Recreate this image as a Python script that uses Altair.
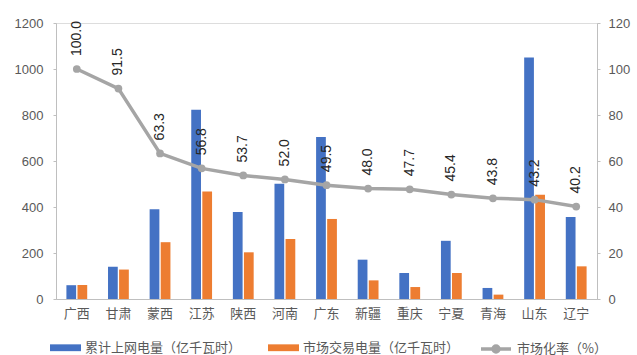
import altair as alt
import pandas as pd

provinces = ["广西", "甘肃", "蒙西", "江苏", "陕西", "河南", "广东", "新疆", "重庆", "宁夏", "青海", "山东", "辽宁"]
grid_power = [60, 140, 390, 823, 378, 501, 704, 171, 113, 253, 48, 1050, 356]
market_power = [61, 128, 247, 467, 203, 261, 348, 81, 52, 113, 19, 453, 142]
market_rate = [100.0, 91.5, 63.3, 56.8, 53.7, 52.0, 49.5, 48.0, 47.7, 45.4, 43.8, 43.2, 40.2]
series_names = ["累计上网电量（亿千瓦时）", "市场交易电量（亿千瓦时）", "市场化率（%）"]
colors = ["#4472C4", "#ED7D31", "#A5A5A5"]
left_ticks = [0, 200, 400, 600, 800, 1000, 1200]
right_ticks = [0, 20, 40, 60, 80, 100, 120]

bar_rows = []
for p, g, m in zip(provinces, grid_power, market_power):
    bar_rows.append({"province": p, "series": series_names[0], "value": g})
    bar_rows.append({"province": p, "series": series_names[1], "value": m})
bars_df = pd.DataFrame(bar_rows)

rate_df = pd.DataFrame({
    "province": provinces,
    "rate": market_rate,
    "label": [f"{v:.1f}" for v in market_rate],
    "series": series_names[2],
})

CJK = "Noto Sans CJK SC"
AXIS_GREY = "#BFBFBF"
TEXT_GREY = "#595959"

x_enc = alt.X(
    "province:N",
    sort=provinces,
    scale=alt.Scale(paddingInner=0.5, paddingOuter=0.25),
    axis=alt.Axis(title=None, labelAngle=0, ticks=False, domainColor=AXIS_GREY,
                  labelFontSize=13, labelColor=TEXT_GREY, labelPadding=8, labelFont=CJK),
)

rect_path = "M-1,-0.22H1V0.22H-1Z"
line_path = "M-1,0H1 M0.2,0A0.2,0.2,0,1,1,-0.2,0A0.2,0.2,0,1,1,0.2,0Z"

LEG_Y = 309

bar_legend = alt.Legend(
    title=None, orient="none", legendX=-6, legendY=LEG_Y, direction="horizontal",
    labelFont=CJK, labelFontSize=13, labelColor=TEXT_GREY, labelLimit=300,
    labelOffset=4, symbolType=rect_path, symbolSize=961, symbolStrokeWidth=0,
    symbolOpacity=1, columnPadding=26, padding=0,
)
line_legend = alt.Legend(
    title=None, orient="none", legendX=423, legendY=LEG_Y, direction="horizontal",
    labelFont=CJK, labelFontSize=13, labelColor=TEXT_GREY, labelLimit=300,
    labelOffset=4, symbolType=line_path, symbolSize=900, symbolStrokeWidth=3.5,
    symbolStrokeColor="#A5A5A5", symbolFillColor="#A5A5A5", symbolOpacity=1, padding=0,
)

bars = alt.Chart(bars_df).mark_bar().encode(
    x=x_enc,
    xOffset=alt.XOffset("series:N", sort=series_names[:2], scale=alt.Scale(paddingInner=0.12)),
    y=alt.Y("value:Q", scale=alt.Scale(domain=[0, 1200], nice=False),
            axis=alt.Axis(title=None, orient="left", values=left_ticks, grid=False, format="d",
                          domainColor=AXIS_GREY, tickColor=AXIS_GREY, tickSize=3,
                          labelPadding=10, labelFontSize=13, labelColor=TEXT_GREY,
                          labelFont="Liberation Sans")),
    color=alt.Color("series:N", scale=alt.Scale(domain=series_names[:2], range=colors[:2]),
                    legend=bar_legend),
)

y_rate = alt.Y("rate:Q", scale=alt.Scale(domain=[0, 120], nice=False),
               axis=alt.Axis(title=None, orient="right", values=right_ticks, grid=False, format="d",
                             domainColor=AXIS_GREY, tickColor=AXIS_GREY, tickSize=3,
                             labelPadding=8, labelFontSize=13, labelColor=TEXT_GREY,
                             labelFont="Liberation Sans"))

base = alt.Chart(rate_df).encode(x=x_enc, y=y_rate)
line = base.mark_line(strokeWidth=3.5).encode(
    stroke=alt.Stroke("series:N", scale=alt.Scale(domain=[series_names[2]], range=[colors[2]]),
                      legend=line_legend)
)
points = base.mark_circle(size=60, opacity=1, color="#A5A5A5")
labels = base.mark_text(angle=270, align="left", baseline="middle", dx=13,
                        fontSize=14, font="Liberation Sans", color="#262626").encode(text="label:N")

rate_layer = alt.layer(line, points, labels)

chart = alt.layer(bars, rate_layer).resolve_scale(y="independent").properties(
    width=541,
    height=276,
    autosize=alt.AutoSizeParams(type="none"),
    padding={"left": 56, "top": 23, "right": 40, "bottom": 56},
).configure_view(stroke=None).configure(background="white")

chart.save("out.html", embed_options={"renderer": "svg", "actions": False})
